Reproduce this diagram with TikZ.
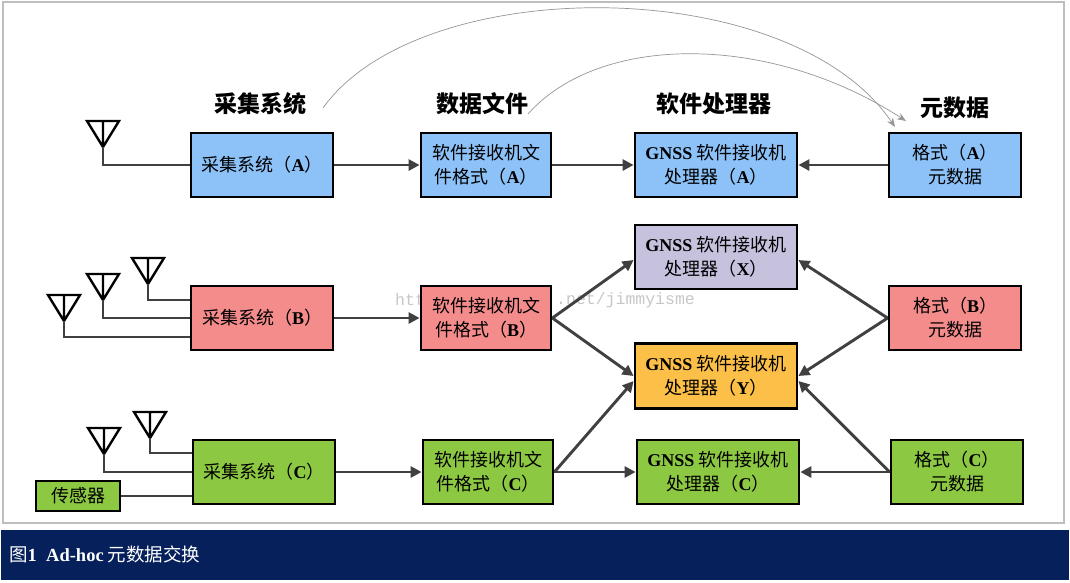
\documentclass[tikz,border=0pt]{standalone}
\usepackage{fontspec}
\setmainfont{Liberation Serif}
\newfontfamily\cjk{Noto Sans CJK SC}
\newfontfamily\wmfont{Liberation Mono}
\usetikzlibrary{arrows.meta}
\definecolor{blueF}{RGB}{140,194,248}
\definecolor{redF}{RGB}{245,140,140}
\definecolor{lavF}{RGB}{198,194,222}
\definecolor{orgF}{RGB}{252,192,72}
\definecolor{grnF}{RGB}{141,200,66}
\definecolor{navyF}{RGB}{6,32,92}
\definecolor{wireC}{RGB}{64,64,64}
\definecolor{frameC}{RGB}{190,190,190}
\definecolor{curveC}{RGB}{150,150,150}
\newcommand\lb[1]{{\rmfamily\bfseries #1}}
\begin{document}
\begin{tikzpicture}[x=1pt,y=-1pt,
  box/.style={draw=black, line width=2.8pt, inner sep=0pt, align=center,
    minimum height=64pt, font=\cjk\fontsize{18}{24}\selectfont},
  sbox/.style={box, minimum width=142pt},
  fbox/.style={box, minimum width=130pt},
  gbox/.style={box, minimum width=162pt},
  mbox/.style={box, minimum width=132pt},
  header/.style={font=\cjk\bfseries\fontsize{23}{26}\selectfont, inner sep=0pt},
  wire/.style={draw=wireC, line width=2.9pt},
  arr/.style={wire, -{Triangle[length=11pt,width=11pt]}},
  antline/.style={draw=black, line width=2.4pt, line join=miter},
  thincurve/.style={draw=curveC, line width=0.7pt, -{Stealth[length=9pt,width=7pt]}},
  wm/.style={text=black!22, inner sep=0pt, anchor=west, font=\wmfont\fontsize{16.5}{18}\selectfont},
  antenna/.pic={\draw[antline] (-16,0) -- (16,0) -- (0,26) -- cycle (0,0) -- (0,26);}
]
\useasboundingbox (0,0) rectangle (1070,582);
\fill[white] (0,0) rectangle (1070,582);
\draw[frameC, line width=1.8pt] (3,2) rectangle (1064,523);
\fill[navyF] (1,530) rectangle (1069,580);
\node[anchor=west, text=white, inner sep=0pt, font=\cjk\fontsize{18.5}{20}\selectfont] (cap) at (9,554) {图\lb{1\ \ Ad-hoc} 元数据交换};

% watermark (visible parts)
\node[wm] (wm1) at (395,300) {htt};
\node[wm] (wm2) at (556,300) {.net/jimmyisme};

% headers
\node[header] (h1) at (260,104) {采集系统};
\node[header] (h2) at (482,104) {数据文件};
\node[header] (h3) at (714,104) {软件处理器};
\node[header] (h4) at (955,108) {元数据};

% row A
\node[sbox, fill=blueF] (sA) at (262,165) {采集系统（\lb{A}）};
\node[fbox, fill=blueF] (fA) at (486,165) {软件接收机文\\件格式（\lb{A}）};
\node[gbox, fill=blueF] (gA) at (716,165) {\lb{GNSS} 软件接收机\\处理器（\lb{A}）};
\node[mbox, fill=blueF] (mA) at (955,165) {格式（\lb{A}）\\元数据};

% X
\node[gbox, fill=lavF] (gX) at (716,257) {\lb{GNSS} 软件接收机\\处理器（\lb{X}）};

% row B
\node[sbox, fill=redF] (sB) at (262,318) {采集系统（\lb{B}）};
\node[fbox, fill=redF] (fB) at (486,318) {软件接收机文\\件格式（\lb{B}）};
\node[mbox, fill=redF] (mB) at (955,318) {格式（\lb{B}）\\元数据};

% Y
\node[gbox, fill=orgF, minimum height=65pt] (gY) at (716,376) {\lb{GNSS} 软件接收机\\处理器（\lb{Y}）};

% row C
\node[sbox, fill=grnF] (sC) at (264,472) {采集系统（\lb{C}）};
\node[fbox, fill=grnF] (fC) at (488,472) {软件接收机文\\件格式（\lb{C}）};
\node[gbox, fill=grnF] (gC) at (718,472) {\lb{GNSS} 软件接收机\\处理器（\lb{C}）};
\node[mbox, fill=grnF] (mC) at (957,472) {格式（\lb{C}）\\元数据};
\node[box, fill=grnF, minimum width=84pt, minimum height=30pt] (sens) at (78,496) {传感器};

% antennas
\pic at (103,121) {antenna};
\coordinate (aA) at (103,147);
\pic at (64,295) {antenna};
\coordinate (aB1) at (64,321);
\pic at (103,274) {antenna};
\coordinate (aB2) at (103,300);
\pic at (148,258) {antenna};
\coordinate (aB3) at (148,284);
\pic at (104,428) {antenna};
\coordinate (aC1) at (104,454);
\pic at (150,412) {antenna};
\coordinate (aC2) at (150,438);

% antenna wires
\draw[wire] (aA) |- (sA.west);
\draw[wire] (aB1) |- ([yshift=-19pt]sB.west);
\draw[wire] (aB2) |- (sB.west);
\draw[wire] (aB3) |- ([yshift=18pt]sB.west);
\draw[wire] (aC1) |- (sC.west);
\draw[wire] (aC2) |- ([yshift=19pt]sC.west);
\draw[wire] (sens.east) -- (sens.east -| sC.west);

% arrows
\draw[arr] (sA.east) -- (fA.west);
\draw[arr] (fA.east) -- (gA.west);
\draw[arr] (mA.west) -- (gA.east);
\draw[arr] (sB.east) -- (fB.west);
\draw[arr] (fB.east) -- ([yshift=-3pt]gX.west);
\draw[arr] (fB.east) -- (gY.west);
\draw[arr] (mB.west) -- ([yshift=-3pt]gX.east);
\draw[arr] (mB.west) -- (gY.east);
\draw[arr] (sC.east) -- (fC.west);
\draw[arr] (fC.east) -- ([yshift=-5pt]gY.west);
\draw[arr] (fC.east) -- (gC.west);
\draw[arr] (mC.west) -- ([yshift=-5pt]gY.east);
\draw[arr] (mC.west) -- (gC.east);

% curves
\coordinate (c1s) at (323,108);
\coordinate (c1e) at (895,127);
\coordinate (c2s) at (528,114);
\coordinate (c2e) at (906,121);
\draw[thincurve] (c1s) .. controls (420,-28) and (790,-28) .. (c1e);
\draw[thincurve] (c2s) .. controls (600,33) and (770,33) .. (c2e);
\end{tikzpicture}
\end{document}
